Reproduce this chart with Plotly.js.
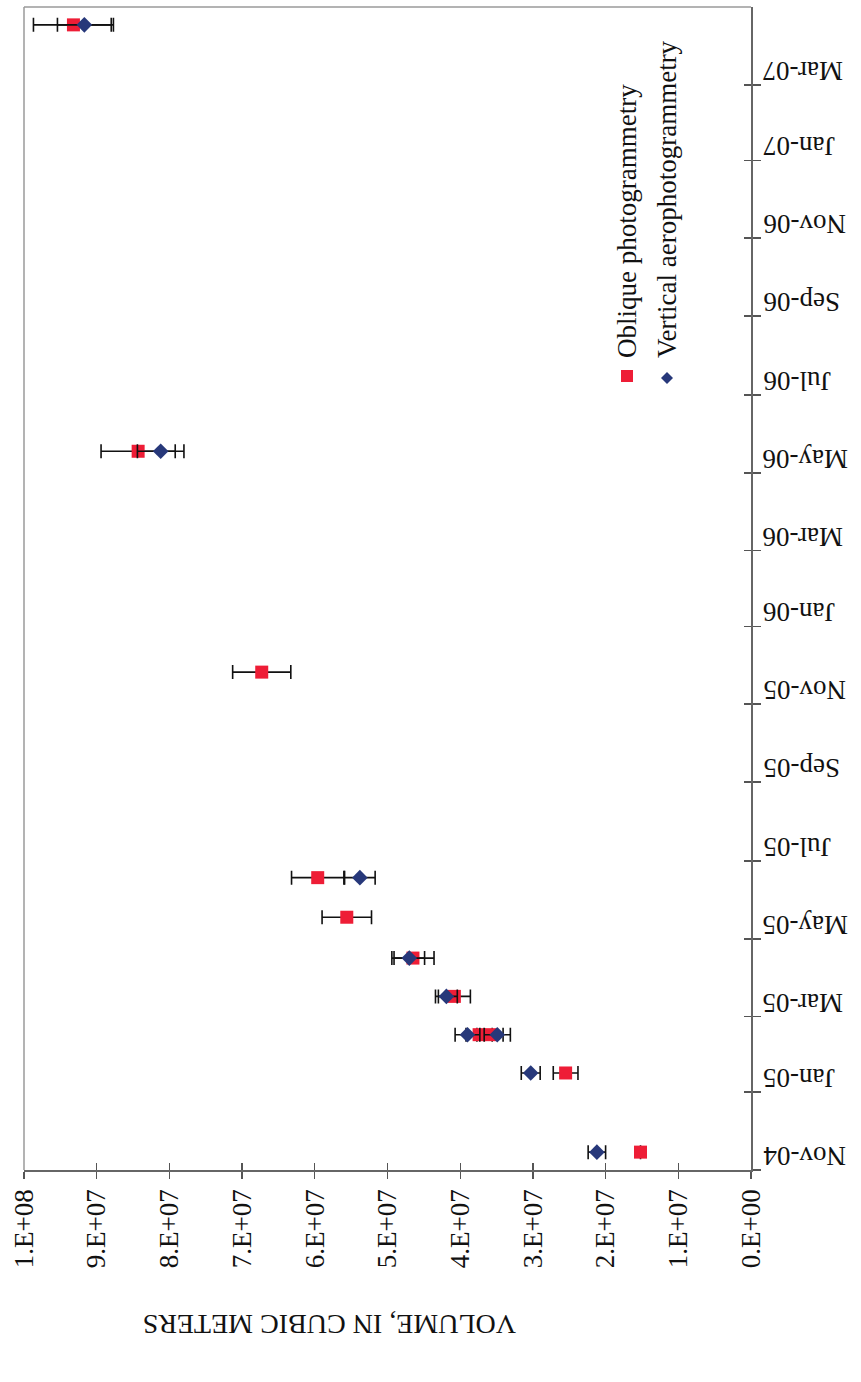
<!DOCTYPE html>
<html>
<head>
<meta charset="utf-8">
<script src="https://cdn.plot.ly/plotly-3.0.1.min.js"></script>
<style>html,body{margin:0;padding:0;background:#fff;}#chart{width:861px;height:1382px;}</style>
</head>
<body>
<div id="chart"></div>
<script>
// ---- data ----
const oblDates = ['2004-11-15','2005-01-16','2005-02-15','2005-02-15','2005-03-17','2005-04-16','2005-05-18','2005-06-18','2005-11-26','2006-05-18','2007-04-17'];
const oblVolume = [1.52e7, 2.55e7, 3.74e7, 3.59e7, 4.08e7, 4.65e7, 5.56e7, 5.96e7, 6.73e7, 8.43e7, 9.32e7];
const oblError = [null, 1.7e6, 1.8e6, 1.8e6, 2.2e6, 2.9e6, 3.4e6, 3.6e6, 4.0e6, 5.1e6, 5.5e6];

const vertDates = ['2004-11-15','2005-01-16','2005-02-15','2005-02-15','2005-03-17','2005-04-16','2005-06-18','2006-05-18','2007-04-17'];
const vertVolume = [2.12e7, 3.03e7, 3.90e7, 3.49e7, 4.19e7, 4.70e7, 5.38e7, 8.12e7, 9.17e7];
const vertError = [1.2e6, 1.3e6, 1.7e6, 1.8e6, 1.5e6, 2.1e6, 2.1e6, 3.2e6, 3.7e6];

const volumeTicks = [0, 1e7, 2e7, 3e7, 4e7, 5e7, 6e7, 7e7, 8e7, 9e7, 1e8];
const volumeTickLabels = ['0.E+00','1.E+07','2.E+07','3.E+07','4.E+07','5.E+07','6.E+07','7.E+07','8.E+07','9.E+07','1.E+08'];

const dateTicks = ['2004-11-01','2005-01-01','2005-03-01','2005-05-01','2005-07-01','2005-09-01','2005-11-01','2006-01-01','2006-03-01','2006-05-01','2006-07-01','2006-09-01','2006-11-01','2007-01-01','2007-03-01'];
const dateTickLabels = ['Nov-04','Jan-05','Mar-05','May-05','Jul-05','Sep-05','Nov-05','Jan-06','Mar-06','May-06','Jul-06','Sep-06','Nov-06','Jan-07','Mar-07'];

const seriesNames = ['Oblique photogrammetry', 'Vertical aerophotogrammetry'];
const axisTitle = 'VOLUME, IN CUBIC METERS';

// ---- styling ----
const FONT = 'Liberation Serif, Times New Roman, serif';
const RED = '#ee1d36';
const BLUE = '#27387a';

const traces = [
  {
    x: oblVolume, y: oblDates, type: 'scatter', mode: 'markers', name: seriesNames[0],
    marker: {symbol: 'square', size: 13, color: RED},
    error_x: {type: 'data', array: oblError, visible: true, color: '#111', thickness: 1.6, width: 7}
  },
  {
    x: vertVolume, y: vertDates, type: 'scatter', mode: 'markers', name: seriesNames[1],
    marker: {symbol: 'diamond', size: 12, color: BLUE},
    error_x: {type: 'data', array: vertError, visible: true, color: '#111', thickness: 1.6, width: 7}
  }
];

const L = 24, R = 751, T = 7, B = 1170;
const W = 861, H = 1382;
const plotW = R - L, plotH = B - T;

const annotations = [];
dateTicks.forEach((d, i) => {
  annotations.push({
    x: 1, xref: 'paper', xanchor: 'left', xshift: 10,
    y: d, yref: 'y', yanchor: 'middle', yshift: 14,
    text: dateTickLabels[i], textangle: 180, showarrow: false,
    font: {family: FONT, size: 27, color: '#111'}
  });
});
annotations.push({
  x: (330 - L) / plotW, xref: 'paper', xanchor: 'center',
  y: 0, yref: 'paper', yanchor: 'middle', yshift: -(1325 - B),
  text: axisTitle, textangle: 180, showarrow: false,
  font: {family: FONT, size: 28, color: '#111'}
});
// legend texts
const legX = [627, 667];
seriesNames.forEach((n, i) => {
  annotations.push({
    x: (legX[i] - L) / plotW, xref: 'paper', xanchor: 'center',
    y: (B - 360) / plotH, yref: 'paper', yanchor: 'bottom',
    text: n, textangle: -90, showarrow: false,
    font: {family: FONT, size: 27, color: '#111'}
  });
});

const shapes = [
  // plot area frame (left & top)
  {type: 'line', xref: 'paper', yref: 'paper', x0: 0, x1: 0, y0: 0, y1: 1, line: {color: '#9a9a9a', width: 1.5}},
  {type: 'line', xref: 'paper', yref: 'paper', x0: 0, x1: 1, y0: 1, y1: 1, line: {color: '#9a9a9a', width: 1.5}},
  // legend keys
  {type: 'rect', xref: 'paper', yref: 'paper', xsizemode: 'pixel', ysizemode: 'pixel',
   xanchor: (legX[0] - L) / plotW, yanchor: (B - 376) / plotH, x0: -6, x1: 6, y0: -6, y1: 6,
   fillcolor: RED, line: {width: 0}},
  {type: 'path', xref: 'paper', yref: 'paper', xsizemode: 'pixel', ysizemode: 'pixel',
   xanchor: (legX[1] - L) / plotW, yanchor: (B - 378) / plotH,
   path: 'M -6 0 L 0 6 L 6 0 L 0 -6 Z', fillcolor: BLUE, line: {width: 0}}
];

const axisFont = {family: FONT, size: 27, color: '#111'};
const layout = {
  width: W, height: H,
  margin: {l: L, r: W - R, t: T, b: H - B, pad: 0},
  paper_bgcolor: '#fff', plot_bgcolor: '#fff',
  showlegend: false,
  xaxis: {
    range: [1e8, 0], tickvals: volumeTicks, ticktext: volumeTickLabels, tickangle: -90,
    ticks: 'outside', ticklen: 7, tickwidth: 1.3, tickcolor: '#555',
    showline: true, linecolor: '#666', linewidth: 1.5,
    showgrid: false, zeroline: false, tickfont: axisFont, anchor: 'y'
  },
  xaxis2: {
    overlaying: 'x', anchor: 'y', side: 'bottom', range: [1e8, 0], tickvals: volumeTicks,
    ticks: 'inside', ticklen: 7, tickwidth: 1.3, tickcolor: '#555',
    showticklabels: false, showgrid: false, zeroline: false, showline: false
  },
  yaxis: {
    type: 'date', range: ['2004-11-01', '2007-05-01'], side: 'right',
    tickvals: dateTicks, ticks: 'outside', ticklen: 8, tickwidth: 1.3, tickcolor: '#555',
    showticklabels: false, showline: true, linecolor: '#666', linewidth: 1.5,
    showgrid: false, zeroline: false, anchor: 'x'
  },
  yaxis2: {
    type: 'date', overlaying: 'y', side: 'right', anchor: 'x', range: ['2004-11-01', '2007-05-01'],
    tickvals: dateTicks, ticks: 'inside', ticklen: 7, tickwidth: 1.3, tickcolor: '#555',
    showticklabels: false, showgrid: false, zeroline: false, showline: false
  },
  annotations: annotations,
  shapes: shapes
};

// invisible trace to activate the overlay axes (cross ticks)
traces.push({x: [null], y: [null], xaxis: 'x2', yaxis: 'y2', type: 'scatter', mode: 'markers', hoverinfo: 'skip', showlegend: false});

Plotly.newPlot('chart', traces, layout, {displayModeBar: false, staticPlot: true});
</script>
</body>
</html>
